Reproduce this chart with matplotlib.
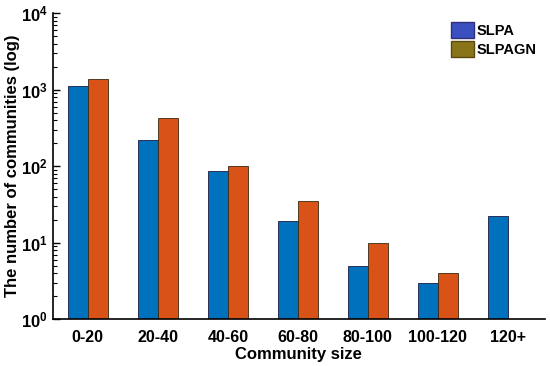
import matplotlib
matplotlib.use('Agg')
import matplotlib.pyplot as plt
from matplotlib.patches import Patch
import numpy as np

plt.rcParams['font.family'] = ['Liberation Sans', 'DejaVu Sans']
plt.rcParams['font.weight'] = 'bold'

# data
sizes = ['0-20', '20-40', '40-60', '60-80', '80-100', '100-120', '120+']
slpa = [1110, 223, 86, 19, 5, 3, 22]
slpagn = [1380, 420, 101, 35, 10, 4, 0]

fig = plt.figure(figsize=(5.5, 3.66), dpi=100)
ax = fig.add_axes([0.096, 0.128, 0.895, 0.836])

x = np.arange(len(sizes))
w = 0.286
ax.bar(x - w/2, slpa, w, color='#0072BD', edgecolor='#1a1a40', linewidth=0.6, log=True)
gn = [v if v > 0 else np.nan for v in slpagn]
ax.bar(x + w/2, gn, w, color='#D95319', edgecolor='#3a2a10', linewidth=0.6, log=True)

ax.set_yscale('log')
ax.set_ylim(1, 1e4)
ax.set_xlim(-0.5, 6.53)
ax.set_xticks(x)
ax.set_xticklabels(sizes, fontsize=11.5, fontweight='bold')
ax.tick_params(axis='x', length=0, pad=8)
ax.tick_params(axis='y', which='major', direction='in', length=5, labelsize=12, width=1)
ax.tick_params(axis='y', which='minor', direction='in', length=3, width=0.8)
for lab in ax.get_yticklabels():
    lab.set_fontweight('bold')

ax.spines['top'].set_visible(False)
ax.spines['right'].set_visible(False)
ax.spines['left'].set_linewidth(1.2)
ax.spines['bottom'].set_linewidth(1.2)

ax.set_xlabel('Community size', fontsize=12, fontweight='bold', labelpad=1)
ax.set_ylabel('The number of communities (log)', fontsize=12, fontweight='bold', labelpad=1)

handles = [Patch(facecolor='#3a4fc0', edgecolor='#30307a', label='SLPA'),
           Patch(facecolor='#8a7419', edgecolor='#5a4a10', label='SLPAGN')]
leg = ax.legend(handles=handles, loc='upper right', frameon=False,
                prop={'weight': 'bold', 'size': 10.5}, handlelength=1.6,
                handleheight=1.3, handletextpad=0.15, labelspacing=0.2,
                borderaxespad=0.2, bbox_to_anchor=(1.0, 1.0))

fig.savefig('out.png', dpi=100)
